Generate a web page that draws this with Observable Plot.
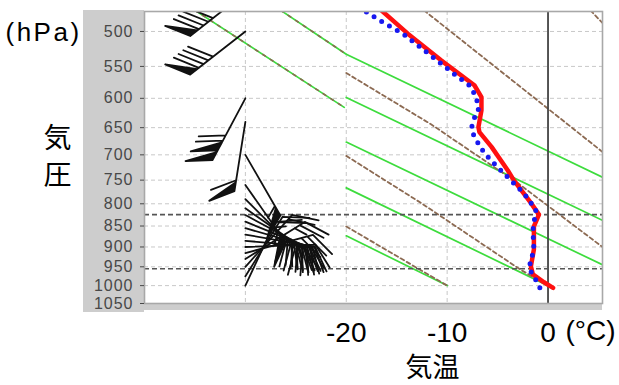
<!DOCTYPE html>
<html><head><meta charset="utf-8">
<script src="https://cdn.jsdelivr.net/npm/d3@7"></script>
<script src="https://cdn.jsdelivr.net/npm/@observablehq/plot@0.6"></script>
<style>body{margin:0;background:#fff;} svg{display:block;}</style>
</head><body><div id="chart"></div>
<script>
// ---- axes ----
const pressureTicks = [500,550,600,650,700,750,800,850,900,950,1000,1050];
const gridPressures = [500,550,600,650,700,750,800,850,900,950,1000];
const tempTicks = [-20,-10,0];
const tempGrid = [-30,-20,-10];
const markedLevels = [824, 955];

// ---- temperature (red) and dew point (blue) profiles ----
const tempP = [470, 503, 541, 579, 598, 620, 649, 658, 685, 730, 750, 798, 824, 851, 906, 949, 970, 991, 1006];
const tempT = [-16.7, -13.9, -10.6, -7.3, -6.6, -6.6, -6.9, -6.8, -5.6, -4.0, -3.4, -1.7, -0.9, -1.4, -1.4, -1.7, -1.5, -0.4, 0.5];
const dewP = [474, 489, 503, 534, 564, 579, 598, 620, 633, 651, 667, 697, 724, 750, 777, 813, 859, 906, 954, 975, 1012];
const dewT = [-18.0, -16.2, -14.4, -11.6, -9.1, -7.8, -7.1, -6.9, -7.3, -7.6, -7.3, -6.3, -5.0, -3.7, -2.4, -1.2, -1.5, -1.4, -1.9, -1.4, -0.7];

// ---- dry adiabats (green), [T, p] ----
const greenA = [[-35.0, 472], [-20.2, 615]];
const greenB = [[-26.5, 472], [-20, 532], [5.5, 745]];
const greenC = [[-20, 598.5], [5.5, 838]];
const greenD = [[-20, 676], [5.5, 946]];
const greenE = [[-20, 766], [0, 1000]];
const greenF = [[-20, 873], [-10, 1000]];

// ---- moist adiabats (brown dashed), [T, p] ----
const brownA = [[-35.0, 472], [-20.2, 615]];
const brownB = [[-26.5, 472], [-20, 532]];
const brownC = [[4.2, 472], [5.5, 490]];
const brownD = [[-12.3, 472], [5.5, 696]];
const brownE = [[-20, 560], [-11.6, 644], [-3.0, 756], [5.5, 902]];
const brownF = [[-20, 702], [-12.6, 798], [-2.7, 958], [0, 1000]];
const brownG = [[-20, 851], [-10, 1000]];

// ---- wind barbs ----
const barbT = -30;
const barbP   = [450, 500, 600, 640, 700, 760, 790, 810, 825, 840, 855, 870, 885, 900, 915, 930, 950, 975, 1000];
const barbDir = [232, 232, 208, 189, 150, 145, 135, 125, 118, 112, 106, 100, 95, 88, 75, 58, 42, 32, 25];
const barbSpd = [90, 90, 120, 60, 55, 50, 45, 45, 40, 40, 40, 35, 35, 30, 30, 25, 20, 20, 15];

const profileT = tempP.map((p, i) => ({p, t: tempT[i]}));
const profileD = dewP.map((p, i) => ({p, t: dewT[i]}));
const barbs = barbP.map((p, i) => ({p, t: barbT, dir: barbDir[i], spd: barbSpd[i]}));

function barbShape(speed) {
  return {
    draw(ctx, l) {
      const f = 27, a = Math.PI / 3;
      const fx = Math.sin(a) * f, fy = -Math.cos(a) * f;
      ctx.moveTo(0, 0); ctx.lineTo(0, -l);
      let s = Math.round(speed / 5) * 5;
      let d = l;
      while (s >= 50) {
        ctx.moveTo(0, -d); ctx.lineTo(fx, -d + fy); ctx.lineTo(0, -(d - 9)); ctx.closePath();
        d -= 11; s -= 50;
      }
      while (s >= 10) {
        ctx.moveTo(0, -d); ctx.lineTo(fx, -d + fy);
        d -= 6; s -= 10;
      }
      if (s >= 5) {
        if (d === l) d -= 6;
        ctx.moveTo(0, -d); ctx.lineTo(fx / 2, -d + fy / 2);
      }
    }
  };
}

const speeds = [...new Set(barbSpd)];
const barbMarks = speeds.map(s => Plot.vector(barbs.filter(d => d.spd === s), {
  x: "t", y: "p", rotate: "dir", length: 70, anchor: "start",
  shape: barbShape(s), stroke: "#111", fill: "#111", strokeWidth: 1.8, clip: true
}));

const pts = (arr, opts) => Plot.line(arr, {x: d => d[0], y: d => d[1], clip: true, ...opts});
const greenOpts = {stroke: "#3ddc3d", strokeWidth: 1.7};
const brownOpts = {stroke: "#8c6a52", strokeWidth: 1.8, strokeDasharray: "4,3"};
const brownOnGreen = {stroke: "#8c6a52", strokeWidth: 1.6, strokeDasharray: "3,6"};

const sans = "Liberation Sans, Arial, sans-serif";
const cjk = "Noto Sans CJK JP, sans-serif";

const svg = Plot.plot({
  width: 619, height: 385,
  marginLeft: 144, marginRight: 17, marginTop: 11, marginBottom: 82,
  style: {fontFamily: sans, background: "white"},
  x: {domain: [-40, 5.4]},
  y: {type: "log", domain: [473.5, 1050], reverse: true},
  marks: [
    Plot.ruleY(gridPressures, {stroke: "#c8c8c8", strokeDasharray: "4,3", strokeWidth: 1}),
    Plot.ruleX(tempGrid, {stroke: "#c8c8c8", strokeDasharray: "4,3", strokeWidth: 1}),
    ...[greenA, greenB, greenC, greenD, greenE, greenF].map(g => pts(g, greenOpts)),
    ...[brownA, brownB].map(b => pts(b, brownOnGreen)),
    ...[brownC, brownD, brownE, brownF, brownG].map(b => pts(b, brownOpts)),
    Plot.ruleX([0], {stroke: "#444", strokeWidth: 1.8}),
    Plot.ruleY(markedLevels, {stroke: "#555", strokeWidth: 1.6, strokeDasharray: "5,3"}),
    Plot.line(profileT, {x: "t", y: "p", stroke: "#ff1010", strokeWidth: 4.5, clip: true}),
    Plot.line(profileD, {x: "t", y: "p", stroke: "#1818f0", strokeWidth: 5, strokeDasharray: "0,9", strokeLinecap: "round", clip: true}),
    ...barbMarks,
    Plot.frame({stroke: "#a8a8a8", strokeWidth: 1.6}),
    Plot.axisY({ticks: pressureTicks, tickFormat: d => String(d), tickSize: 4, tickPadding: 7, fontSize: 16, color: "#484848", label: null}),
    Plot.axisX({ticks: tempTicks, tickFormat: d => String(d), tickSize: 0, tickPadding: 19, fontSize: 28, color: "black", label: null}),
    Plot.text(["(hPa)"], {frameAnchor: "top-left", lineAnchor: "middle", dx: -139, dy: 21, textAnchor: "start", fontSize: 26, fill: "black"}),
    Plot.text(["気\n圧"], {frameAnchor: "left", lineAnchor: "middle", dx: -87, dy: -3, lineHeight: 1.32, fontSize: 28, textAnchor: "middle", fontFamily: cjk, fill: "black"}),
    Plot.text(["気温"], {frameAnchor: "bottom", lineAnchor: "middle", dx: 59, dy: 65, fontSize: 27, textAnchor: "middle", fontFamily: cjk, fill: "black"}),
    Plot.text(["(°C)"], {frameAnchor: "bottom-right", lineAnchor: "middle", dx: -37, dy: 28, fontSize: 28, textAnchor: "start", fill: "black"})
  ]
});

const s = d3.select(svg);
s.insert("rect", ":first-child").attr("x", 83).attr("y", 303).attr("width", 519).attr("height", 7).attr("fill", "#cdcdcd");
s.insert("rect", ":first-child").attr("x", 83).attr("y", 10).attr("width", 61).attr("height", 302).attr("fill", "#cdcdcd");
s.selectAll("text").filter(function() { return this.textContent === "(hPa)"; }).attr("letter-spacing", "2.5px");
s.selectAll('g[aria-label="y-axis tick label"] text').attr("letter-spacing", "1px");
document.getElementById("chart").appendChild(svg);
</script>
</body></html>
